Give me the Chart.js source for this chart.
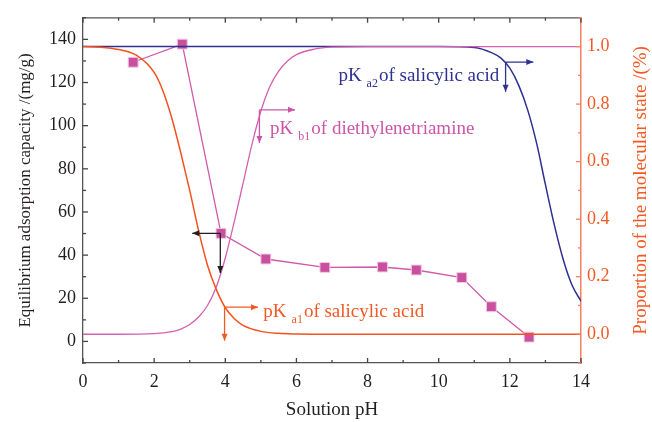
<!DOCTYPE html>
<html>
<head>
<meta charset="utf-8">
<script src="https://cdn.jsdelivr.net/npm/chart.js@4.4.1/dist/chart.umd.min.js"></script>
<style>
  html, body { margin: 0; padding: 0; background: #fff; }
  #wrap { width: 652px; height: 422px; }
</style>
</head>
<body>
<div id="wrap"><canvas id="chart" width="652" height="422"></canvas></div>
<script>
// adsorption capacity (mg/g) measured at each solution pH
const adsPH = [1.41, 2.79, 3.88, 5.14, 6.80, 8.42, 9.37, 10.65, 11.48, 12.54];
const adsCapacity = [129.4, 137.8, 50.1, 38.2, 34.3, 34.5, 33.1, 29.6, 16.1, 2.0];

// proportion of molecular state
const pKa1PH = [0, 0.5, 1, 1.5, 2, 2.25, 2.5, 2.75, 3, 3.25, 3.5, 3.75, 4, 4.25, 4.5, 5, 5.5, 6, 7, 8, 10, 12, 14];
const pKa1Frac = [1.0, 0.998, 0.99, 0.97, 0.91, 0.845, 0.75, 0.63, 0.50, 0.36, 0.24, 0.155, 0.092, 0.055, 0.031, 0.01, 0.003, 0.001, 0, 0, 0, 0, 0];

const pKb1PH = [0, 1, 2, 2.5, 2.75, 3, 3.25, 3.5, 3.75, 4, 4.25, 4.5, 4.75, 5, 5.25, 5.5, 5.75, 6, 6.5, 7, 8, 10, 12, 14];
const pKb1Frac = [0, 0, 0.002, 0.009, 0.018, 0.034, 0.06, 0.10, 0.165, 0.265, 0.39, 0.525, 0.66, 0.775, 0.86, 0.915, 0.95, 0.972, 0.991, 0.998, 1.0, 1.0, 1.0, 1.0];

const pKa2PH = [0, 2, 4, 6, 8, 10, 11, 11.5, 11.75, 12, 12.25, 12.5, 12.75, 13, 13.25, 13.5, 13.75, 14];
const pKa2Frac = [1.0, 1.0, 1.0, 1.0, 1.0, 1.0, 0.997, 0.978, 0.96, 0.925, 0.865, 0.78, 0.665, 0.52, 0.38, 0.26, 0.17, 0.115];

// annotation labels and arrows (data coordinates)
const noteLabels = [
    { axis: 'yR', x: 7.18, y: 0.879, sub: 'a2', rest: 'of salicylic acid', color: '#2E3192' },
    { axis: 'yR', x: 5.26, y: 0.696, sub: 'b1', rest: 'of diethylenetriamine', color: '#CC55A8' },
    { axis: 'yR', x: 5.07, y: 0.0595, sub: 'a1', rest: 'of salicylic acid', color: '#F15A24' }
];
const noteArrows = [
    { axis: 'yR', x: 11.88, y: 0.946, toX: 12.66, toY: 0.843, color: '#2E3192' },
    { axis: 'yR', x: 4.96, y: 0.78, toX: 5.96, toY: 0.665, color: '#CC55A8' },
    { axis: 'yL', x: 3.86, y: 50.1, toX: 3.07, toY: 31.7, color: '#231F20' },
    { axis: 'yR', x: 3.98, y: 0.094, toX: 4.92, toY: -0.023, color: '#F15A24' }
];

const SERIF = '"Liberation Serif", "DejaVu Serif", serif';
const DARK = '#231F20';
const ORANGE = '#F15A24';
const ORANGE_AXIS = '#F4805E';

function pts(xs, ys) {
    return xs.map((x, i) => ({ x: x, y: ys[i] }));
}

function arrowHead(ctx, x, y, dx, dy) {
    const len = 7, half = 3;
    ctx.beginPath();
    ctx.moveTo(x, y);
    ctx.lineTo(x - dx * len - dy * half, y - dy * len + dx * half);
    ctx.lineTo(x - dx * len + dy * half, y - dy * len - dx * half);
    ctx.closePath();
    ctx.fill();
}

// inward ticks, top frame line, right title, annotations
const extras = {
    id: 'extras',
    afterDatasetsDraw(chart) {
        const { ctx, scales } = chart;
        const xs = scales.x;
        ctx.save();

        // arrows
        noteArrows.forEach(ar => {
            const ys = scales[ar.axis];
            const x0 = xs.getPixelForValue(ar.x), y0 = ys.getPixelForValue(ar.y);
            const x1 = xs.getPixelForValue(ar.toX), y1 = ys.getPixelForValue(ar.toY);
            ctx.strokeStyle = ar.color;
            ctx.fillStyle = ar.color;
            ctx.lineWidth = 1.3;
            ctx.beginPath();
            ctx.moveTo(x0, y0); ctx.lineTo(x1, y0);
            ctx.moveTo(x0, y0); ctx.lineTo(x0, y1);
            ctx.stroke();
            arrowHead(ctx, x1, y0, Math.sign(x1 - x0), 0);
            arrowHead(ctx, x0, y1, 0, Math.sign(y1 - y0));
        });

        // labels with subscripts
        ctx.textBaseline = 'alphabetic';
        ctx.textAlign = 'left';
        noteLabels.forEach(lb => {
            const ys = scales[lb.axis];
            let x = xs.getPixelForValue(lb.x);
            const y = ys.getPixelForValue(lb.y);
            ctx.fillStyle = lb.color;
            ctx.font = '19px ' + SERIF;
            ctx.fillText('pK', x, y);
            x += ctx.measureText('pK').width + 5;
            ctx.font = '12px ' + SERIF;
            ctx.fillText(lb.sub, x, y + 6);
            x += ctx.measureText(lb.sub).width + 1;
            ctx.font = '19px ' + SERIF;
            ctx.fillText(lb.rest, x, y);
        });
        ctx.restore();
    },
    afterDraw(chart) {
        const { ctx, chartArea: a, scales } = chart;
        ctx.save();
        ctx.lineWidth = 1.3;

        // top frame
        ctx.strokeStyle = '#555';
        ctx.beginPath();
        ctx.moveTo(a.left, a.top); ctx.lineTo(a.right, a.top);
        ctx.stroke();

        // x ticks, bottom and top
        ctx.strokeStyle = '#444';
        scales.x.ticks.forEach(t => {
            const px = scales.x.getPixelForValue(t.value);
            const len = t.value % 2 === 0 ? 5 : 3;
            ctx.beginPath();
            ctx.moveTo(px, a.bottom); ctx.lineTo(px, a.bottom - len);
            ctx.moveTo(px, a.top); ctx.lineTo(px, a.top + len);
            ctx.stroke();
        });
        // left y ticks
        scales.yL.ticks.forEach(t => {
            const py = scales.yL.getPixelForValue(t.value);
            const len = Math.round(t.value) % 20 === 0 ? 5 : 3;
            ctx.beginPath();
            ctx.moveTo(a.left, py); ctx.lineTo(a.left + len, py);
            ctx.stroke();
        });
        // right y ticks
        ctx.strokeStyle = ORANGE_AXIS;
        scales.yR.ticks.forEach(t => {
            const py = scales.yR.getPixelForValue(t.value);
            const len = Math.round(t.value * 10) % 2 === 0 ? 5 : 3;
            ctx.beginPath();
            ctx.moveTo(a.right, py); ctx.lineTo(a.right - len, py);
            ctx.stroke();
        });

        // right axis title, reading bottom to top
        ctx.fillStyle = ORANGE;
        ctx.font = '19px ' + SERIF;
        ctx.textAlign = 'center';
        ctx.textBaseline = 'middle';
        ctx.translate(641, (a.top + a.bottom) / 2);
        ctx.rotate(-Math.PI / 2);
        ctx.fillText('Proportion of the molecular state /(%)', 0, 0);
        ctx.restore();
    }
};

const ctx = document.getElementById('chart').getContext('2d');

new Chart(ctx, {
    type: 'line',
    data: {
        datasets: [
            {
                label: 'pKa1',
                data: pts(pKa1PH, pKa1Frac),
                yAxisID: 'yR',
                borderColor: '#F4511E',
                borderWidth: 1.5,
                pointRadius: 0,
                cubicInterpolationMode: 'monotone',
                fill: false
            },
            {
                label: 'pKb1',
                data: pts(pKb1PH, pKb1Frac),
                yAxisID: 'yR',
                borderColor: '#D460B2',
                borderWidth: 1.3,
                pointRadius: 0,
                cubicInterpolationMode: 'monotone',
                fill: false
            },
            {
                label: 'pKa2',
                data: pts(pKa2PH, pKa2Frac),
                yAxisID: 'yR',
                borderColor: '#2E3192',
                borderWidth: 1.5,
                pointRadius: 0,
                cubicInterpolationMode: 'monotone',
                fill: false
            },
            {
                label: 'Adsorption',
                data: pts(adsPH, adsCapacity),
                yAxisID: 'yL',
                borderColor: '#D05AAA',
                borderWidth: 1.3,
                backgroundColor: '#C8509E',
                pointStyle: 'rect',
                pointRadius: 7,
                pointBorderColor: '#F2C8E4',
                pointBorderWidth: 1,
                tension: 0,
                fill: false
            }
        ]
    },
    options: {
        responsive: false,
        animation: false,
        layout: { padding: { top: 14, left: 0, right: 0, bottom: 0 } },
        plugins: {
            legend: { display: false },
            tooltip: { enabled: false }
        },
        scales: {
            x: {
                type: 'linear',
                min: 0,
                max: 14,
                grid: { display: false, drawTicks: false },
                border: { display: true, color: '#555', width: 1.3 },
                ticks: {
                    stepSize: 1,
                    autoSkip: false,
                    maxRotation: 0,
                    padding: 8,
                    color: DARK,
                    font: { family: SERIF, size: 18 },
                    callback: v => (v % 2 === 0 ? String(v) : '')
                },
                title: {
                    display: true,
                    text: 'Solution pH',
                    color: DARK,
                    font: { family: SERIF, size: 19 },
                    padding: { top: 0, bottom: 1 }
                },
                afterFit: s => { s.height = 59; }
            },
            yL: {
                type: 'linear',
                position: 'left',
                min: -10,
                max: 150,
                grid: { display: false, drawTicks: false },
                border: { display: true, color: '#555', width: 1.3 },
                ticks: {
                    stepSize: 10,
                    autoSkip: false,
                    padding: 7,
                    color: DARK,
                    font: { family: SERIF, size: 18 },
                    callback: v => (Math.round(v) % 20 === 0 ? String(v) : '')
                },
                title: {
                    display: true,
                    text: 'Equilibrium adsorption capacity /(mg/g)',
                    color: DARK,
                    font: { family: SERIF, size: 17 },
                    padding: { top: 15, bottom: 0 }
                },
                afterFit: s => { s.width = 83; }
            },
            yR: {
                type: 'linear',
                position: 'right',
                min: -0.1,
                max: 1.1,
                grid: { display: false, drawTicks: false },
                border: { display: true, color: ORANGE_AXIS, width: 1.5 },
                ticks: {
                    stepSize: 0.1,
                    autoSkip: false,
                    padding: 6,
                    color: ORANGE,
                    font: { family: SERIF, size: 18 },
                    callback: v => (Math.round(v * 10) % 2 === 0 ? v.toFixed(1) : '')
                },
                afterFit: s => { s.width = 71; }
            }
        }
    },
    plugins: [extras]
});
</script>
</body>
</html>
